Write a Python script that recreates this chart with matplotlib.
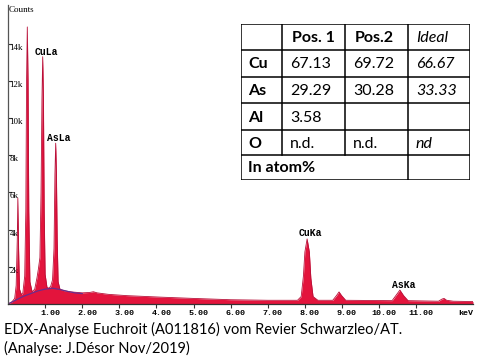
import matplotlib
matplotlib.use('Agg')
import matplotlib.pyplot as plt
import matplotlib.transforms as mtransforms
import numpy as np

# spectrum outline (keV, counts in k)
energy = [0.00, 0.10, 0.18, 0.22, 0.25, 0.265, 0.285, 0.31, 0.36, 0.40, 0.45, 0.48, 0.50, 0.52,
          0.54, 0.56, 0.59, 0.65, 0.72, 0.78, 0.82, 0.86, 0.89, 0.915, 0.935, 0.955, 0.975,
          1.00, 1.05, 1.10, 1.15, 1.20, 1.24, 1.265, 1.285, 1.305, 1.325, 1.35, 1.40, 1.50,
          1.70, 2.00, 2.20, 2.30, 2.40, 2.70, 3.20, 4.10, 5.00, 6.00, 7.00, 7.80, 7.90, 7.96,
          8.00, 8.06, 8.12, 8.16, 8.22, 8.35, 8.75, 8.85, 8.92, 8.99, 9.10, 10.35, 10.45, 10.56,
          10.66, 10.78, 11.60, 11.70, 11.75, 11.82, 12.00, 12.53]
counts = [0.0, 0.1, 0.3, 1.0, 3.5, 5.7, 3.0, 0.8, 0.5, 0.6, 1.5, 5.0, 12.0, 14.9,
          12.0, 5.0, 1.2, 0.65, 0.8, 1.4, 1.9, 2.5, 6.0, 11.0, 13.3, 11.0, 5.0,
          1.6, 0.9, 0.85, 0.95, 1.3, 3.0, 7.0, 8.65, 7.0, 3.5, 1.2, 0.8, 0.72,
          0.65, 0.6, 0.62, 0.66, 0.6, 0.52, 0.45, 0.37, 0.3, 0.23, 0.2, 0.2, 0.4, 1.5,
          2.8, 3.5, 2.8, 1.4, 0.4, 0.2, 0.2, 0.45, 0.65, 0.45, 0.2, 0.18, 0.45, 0.75,
          0.45, 0.18, 0.15, 0.27, 0.3, 0.2, 0.15, 0.13]

# background fit (purple line), visible part only
bkg_energy = [0.0, 0.2, 0.4, 0.6, 0.8, 1.0, 1.2, 1.4, 1.6, 1.8, 2.0]
bkg_counts = [0.0, 0.2, 0.4, 0.55, 0.7, 0.8, 0.85, 0.78, 0.68, 0.6, 0.56]

# peak labels (centre of label)
peak_names = ['CuLa', 'AsLa', 'CuKa', 'AsKa']
peak_energy = [1.04, 1.37, 8.15, 10.66]
peak_height = [13.55, 8.92, 3.82, 1.02]

xticks = [1, 2, 3, 4, 5, 6, 7, 8, 9, 10, 11]
yticks = [2, 4, 6, 8, 10, 12, 14]

# table contents
tab_header = ['', 'Pos. 1', 'Pos.2', 'Ideal']
tab_elements = ['Cu', 'As', 'Al', 'O']
tab_pos1 = ['67.13', '29.29', '3.58', 'n.d.']
tab_pos2 = ['69.72', '30.28', '', 'n.d.']
tab_ideal = ['66.67', '33.33', '', 'nd']
tab_footer = 'In atom%'

caption1 = 'EDX-Analyse Euchroit (A011816) vom Revier Schwarzleo/AT.'
caption2 = '(Analyse: J.Désor Nov/2019)'

W, H = 482, 364
fig = plt.figure(figsize=(W/100, H/100), dpi=100)

ax = fig.add_axes([8/W, 60/H, 465/W, 299/H])
ax.fill_between(energy, counts, 0, color='#e3143c', lw=0)
ax.plot(energy, counts, color='#b80f38', lw=0.6)
ax.plot(bkg_energy, bkg_counts, color='#6b2c8c', lw=0.9)
ax.set_xlim(0, 12.53)
ax.set_ylim(0, 16.08)

for s in ['top', 'right']:
    ax.spines[s].set_visible(False)
ax.spines['left'].set_color('#555555')
ax.spines['bottom'].set_color('#333333')
ax.spines['left'].set_linewidth(0.9)
ax.spines['bottom'].set_linewidth(0.9)

# x ticks, labels sit a bit right of the tick like in the EDAX output
ax.set_xticks(xticks, [])
ax.tick_params(axis='x', direction='out', length=3, width=0.8, color='#333333')
shift = mtransforms.ScaledTranslation(5/100, -6/100, fig.dpi_scale_trans)
for v in xticks:
    ax.text(v, 0, f'{v:.2f}', transform=ax.get_xaxis_transform() + shift,
            family='Liberation Mono', fontweight='bold', fontsize=6, ha='center', va='top')
ax.text(12.2, 0, 'keV', transform=ax.get_xaxis_transform() + shift,
        family='Liberation Mono', fontweight='bold', fontsize=6, ha='center', va='top')

ax.set_yticks(yticks, [f'{v}k' for v in yticks])
ax.tick_params(axis='y', direction='in', length=3, width=0.8, pad=-1, color='#333333')
for lab in ax.get_yticklabels():
    lab.set_fontfamily('Liberation Serif')
    lab.set_fontsize(6.5)
    lab.set_horizontalalignment('left')
    lab.set_verticalalignment('top')

ax.text(0.03, 16.0, 'Counts', family='Liberation Serif', fontsize=6.5, ha='left', va='top')

for name, e, h in zip(peak_names, peak_energy, peak_height):
    ax.text(e, h, name, family='Liberation Mono', fontweight='bold', fontsize=7,
            ha='center', va='center')

# table of compositions
tax = fig.add_axes([241/W, (H-180)/H, 229/W, 156/H])
tax.set_xlim(0, 229)
tax.set_ylim(156, 0)
tax.axis('off')
cols = [0, 41, 104, 167, 229]
rows = [0, 26, 53, 79, 106, 131, 156]
for r in rows:
    tax.plot([0, 229], [r, r], color='black', lw=1.1, solid_capstyle='projecting')
for c in cols:
    top_end = 156 if c in (0, 167, 229) else 131
    tax.plot([c, c], [0, top_end], color='black', lw=1.1, solid_capstyle='projecting')

tfont = dict(family='Lato', fontsize=11.5, va='center', ha='left')
for j, txt in enumerate(tab_header):
    if txt == 'Ideal':
        tax.text(cols[j] + 8, 14, txt, fontstyle='italic', **tfont)
    else:
        tax.text(cols[j] + 10, 14, txt, fontweight='bold', **tfont)
for i, el in enumerate(tab_elements):
    y = (rows[i+1] + rows[i+2]) / 2 + 1
    tax.text(cols[0] + 7, y, el, fontweight='bold', **tfont)
    tax.text(cols[1] + 8, y, tab_pos1[i], **tfont)
    tax.text(cols[2] + 8, y, tab_pos2[i], **tfont)
    tax.text(cols[3] + 8, y, tab_ideal[i], fontstyle='italic', **tfont)
tax.text(cols[0] + 7, (rows[5] + rows[6]) / 2 + 1, tab_footer, fontweight='bold', **tfont)

fig.text(4/W, 1 - 334/H, caption1, family='Lato', fontsize=10.5, ha='left', va='baseline')
fig.text(4/W, 1 - 353/H, caption2, family='Lato', fontsize=10.5, ha='left', va='baseline')

fig.savefig('out.png', dpi=100)
